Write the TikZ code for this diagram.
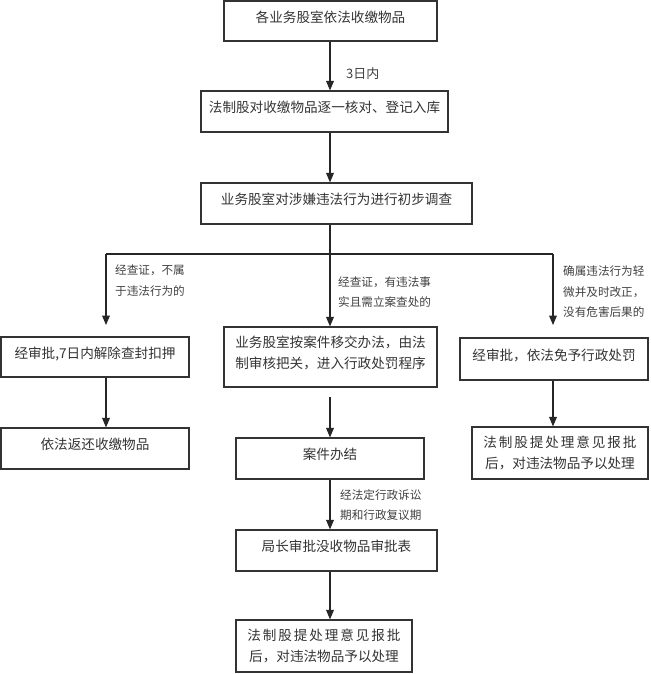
\documentclass[tikz,border=0pt]{standalone}
\usepackage{fontspec}
\setmainfont{Noto Sans CJK SC}
\usetikzlibrary{arrows}

\tikzset{
  box/.style={draw=black!80, line width=1.2pt, inner sep=0pt, align=center,
    text=black!80, font=\fontsize{13.6}{21}\selectfont},
  onebox/.style={box, text depth=9pt},
  lbl/.style={inner sep=0pt, align=left, anchor=west, text=black!75,
    font=\fontsize{11.6}{20.5}\selectfont},
  line/.style={line width=1.2pt, black!85},
  flow/.style={line, ->, >=triangle 45}
}

\begin{document}
\begin{tikzpicture}[x=1pt,y=-1pt]
    \useasboundingbox (0,0) rectangle (650,674);
    % Draw the boxes of the main column
    \node[onebox, minimum width=213pt, minimum height=40pt] (collect) at (330.5,21) {各业务股室依法收缴物品};
    \node[onebox, minimum width=247pt, minimum height=41pt] (check) at (324.5,111.5) {法制股对收缴物品逐一核对、登记入库};
    \node[onebox, minimum width=271pt, minimum height=41pt] (inv) at (336.5,203.5) {业务股室对涉嫌违法行为进行初步调查};
    % Draw the three branches
    \node[onebox, minimum width=188pt, minimum height=40pt] (release) at (95,357) {经审批,7日内解除查封扣押};
    \node[onebox, minimum width=188pt, minimum height=41pt] (return) at (95,448.5) {依法返还收缴物品};
    \node[box, minimum width=213pt, minimum height=60pt, text depth=10pt] (transfer) at (330.5,357) {业务股室按案件移交办法，由法\\制审核把关，进入行政处罚程序};
    \node[onebox, minimum width=188pt, minimum height=42pt] (exempt) at (554,359) {经审批，依法免予行政处罚};
    \node[box, minimum width=176pt, minimum height=52pt] (dispose) at (560,453) {{\addfontfeature{LetterSpace=14}法制股提处理意见报批}\\后，对违法物品予以处理};
    \node[onebox, minimum width=188pt, minimum height=41pt] (closed) at (330,458.5) {案件办结};
    \node[onebox, minimum width=201pt, minimum height=41pt] (confisc) at (336.5,550.5) {局长审批没收物品审批表};
    \node[box, minimum width=176pt, minimum height=52pt] (final) at (324,646) {{\addfontfeature{LetterSpace=14}法制股提处理意见报批}\\后，对违法物品予以处理};
    % Draw the labels
    \node[lbl, font=\fontsize{13}{20}\selectfont] (days) at (346,74) {3日内};
    \node[lbl] (notillegal) at (115,280.5) {经查证，不属\\于违法行为的};
    \node[lbl] (illegal) at (338,292) {经查证，有违法事\\实且需立案查处的};
    \node[lbl] (minor) at (563,292) {确属违法行为轻\\微并及时改正，\\没有危害后果的};
    \node[lbl] (period) at (340,505) {经法定行政诉讼\\期和行政复议期};
    % Draw the connectors
    \coordinate (axis) at (330,0);
    \coordinate (split) at (330,254);
    \coordinate (lb) at (106,254);
    \coordinate (rb) at (553,254);
    \coordinate (lt) at (106,325);
    \coordinate (rt) at (553,325);
    \coordinate (gap) at (330,397);
    \draw[flow] (axis |- collect.south) -- (axis |- check.north);
    \draw[flow] (axis |- check.south) -- (axis |- inv.north);
    \draw[line] (axis |- inv.south) -- (split);
    \draw[line] (lb) -- (rb);
    \draw[flow] (lb) -- (lt);
    \draw[flow] (split) -- (axis |- transfer.north);
    \draw[flow] (rb) -- (rt);
    \draw[flow] (lb |- release.south) -- (lb |- return.north);
    \draw[flow] (rb |- exempt.south) -- (rb |- dispose.north);
    \draw[flow] (gap) -- (axis |- closed.north);
    \draw[flow] (axis |- closed.south) -- (axis |- confisc.north);
    \draw[flow] (axis |- confisc.south) -- (axis |- final.north);
\end{tikzpicture}
\end{document}
